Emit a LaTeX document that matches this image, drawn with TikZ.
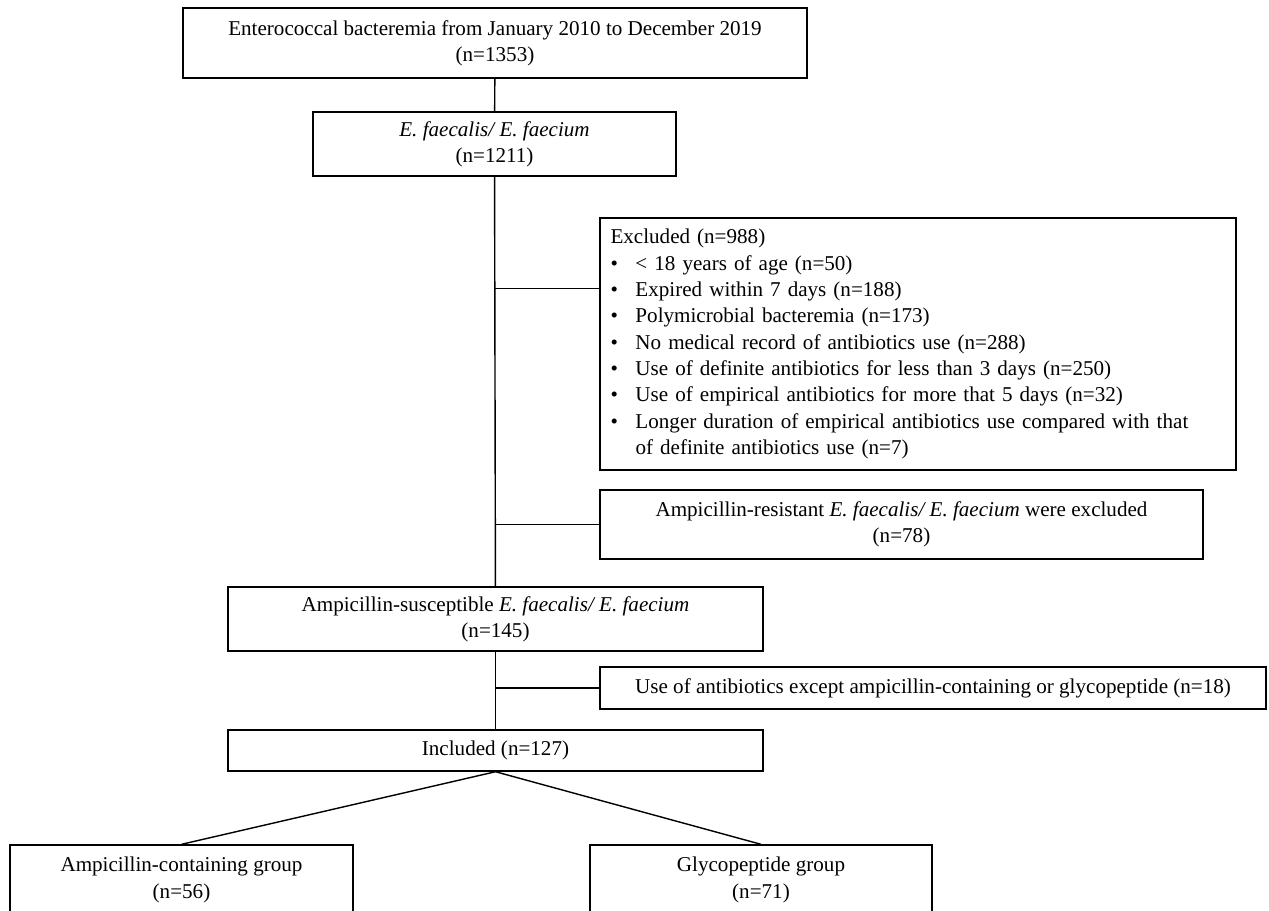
\documentclass[tikz,border=0pt]{standalone}
\usepackage{fontspec}
\setmainfont{Liberation Serif}
\usepackage{tikz}
\usetikzlibrary{positioning}

\begin{document}
\begin{tikzpicture}[
    box/.style={draw, thick, fill=white, align=center, inner sep=2pt,
                minimum width=#1, font=\fontsize{12}{15}\selectfont},
    link/.style={thick}
]
    \useasboundingbox (0,0) rectangle (25.38,-18.2);

    % Main stages
    \node[box=12.48cm, minimum height=1.4cm] (total) at (9.9,-0.86)
        {Enterococcal bacteremia from January 2010 to December 2019\\(n=1353)};
    \node[box=7.26cm, minimum height=1.28cm] (species) at (9.89,-2.88)
        {\textit{E. faecalis/ E. faecium}\\(n=1211)};
    \node[box=10.7cm, minimum height=1.28cm] (suscept) at (9.91,-12.38)
        {Ampicillin-susceptible \textit{E. faecalis/ E. faecium}\\(n=145)};
    \node[box=10.7cm, minimum height=0.82cm] (incl) at (9.91,-15.01)
        {Included (n=127)};

    % Exclusions
    \node[box=12.72cm, minimum height=5.04cm, align=left, text width=12.3cm] (excl) at (18.36,-6.88)
        {Excluded (n=988)\\
         \makebox[0.5cm][l]{\textbullet}< 18 years of age (n=50)\\
         \makebox[0.5cm][l]{\textbullet}Expired within 7 days (n=188)\\
         \makebox[0.5cm][l]{\textbullet}Polymicrobial bacteremia (n=173)\\
         \makebox[0.5cm][l]{\textbullet}No medical record of antibiotics use (n=288)\\
         \makebox[0.5cm][l]{\textbullet}Use of definite antibiotics for less than 3 days (n=250)\\
         \makebox[0.5cm][l]{\textbullet}Use of empirical antibiotics for more that 5 days (n=32)\\
         \makebox[0.5cm][l]{\textbullet}Longer duration of empirical antibiotics use compared with that\\
         \hspace*{0.5cm}of definite antibiotics use (n=7)};
    \node[box=12.06cm, minimum height=1.38cm] (resist) at (18.03,-10.49)
        {Ampicillin-resistant \textit{E. faecalis/ E. faecium} were excluded\\(n=78)};
    \node[box=13.32cm, minimum height=0.84cm] (other) at (18.66,-13.76)
        {Use of antibiotics except ampicillin-containing or glycopeptide (n=18)};

    % Groups
    \node[box=6.86cm, minimum height=1.4cm] (amp) at (3.63,-17.6)
        {Ampicillin-containing group\\(n=56)};
    \node[box=6.84cm, minimum height=1.4cm] (gly) at (15.22,-17.6)
        {Glycopeptide group\\(n=71)};

    % Trunk
    \draw[link] (total) -- (species);
    \draw[link] (species) -- (suscept);
    \draw[link] (suscept) -- (incl);

    % Side branches
    \coordinate (j1) at ([yshift=-1.42cm]excl.north west);
    \draw[link] (j1) -- (j1 -| species.south);
    \draw[link] (resist.west) -- (resist.west -| species.south);
    \draw[link] (other.west) -- (other.west -| suscept.south);

    % Split
    \draw[link] (incl.south) -- (amp.north);
    \draw[link] (incl.south) -- (gly.north);
\end{tikzpicture}
\end{document}
